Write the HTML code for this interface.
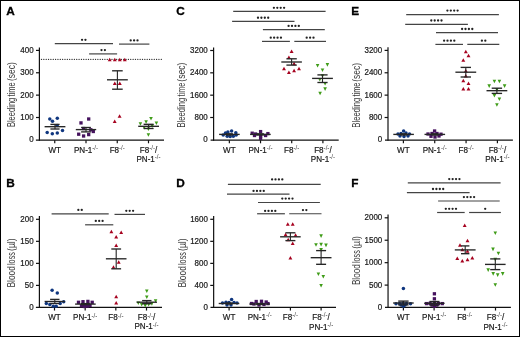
<!DOCTYPE html>
<html><head><meta charset="utf-8"><style>
html,body{margin:0;padding:0;background:#fff;}
body{width:520px;height:337px;overflow:hidden;}
svg{display:block;will-change:transform;font-family:"Liberation Sans",sans-serif;}
</style></head><body>
<svg width="520" height="337" viewBox="0 0 520 337">
<rect x="0" y="0" width="520" height="337" fill="#fff"/>
<rect x="0.5" y="0.5" width="519" height="336" fill="none" stroke="#000" stroke-width="1"/>
<circle cx="41.5" cy="59.35" r="0.68" fill="#1a1a1a"/>
<circle cx="43.85" cy="59.35" r="0.68" fill="#1a1a1a"/>
<circle cx="46.2" cy="59.35" r="0.68" fill="#1a1a1a"/>
<circle cx="48.55" cy="59.35" r="0.68" fill="#1a1a1a"/>
<circle cx="50.9" cy="59.35" r="0.68" fill="#1a1a1a"/>
<circle cx="53.25" cy="59.35" r="0.68" fill="#1a1a1a"/>
<circle cx="55.59" cy="59.35" r="0.68" fill="#1a1a1a"/>
<circle cx="57.94" cy="59.35" r="0.68" fill="#1a1a1a"/>
<circle cx="60.29" cy="59.35" r="0.68" fill="#1a1a1a"/>
<circle cx="62.64" cy="59.35" r="0.68" fill="#1a1a1a"/>
<circle cx="64.99" cy="59.35" r="0.68" fill="#1a1a1a"/>
<circle cx="67.34" cy="59.35" r="0.68" fill="#1a1a1a"/>
<circle cx="69.69" cy="59.35" r="0.68" fill="#1a1a1a"/>
<circle cx="72.04" cy="59.35" r="0.68" fill="#1a1a1a"/>
<circle cx="74.39" cy="59.35" r="0.68" fill="#1a1a1a"/>
<circle cx="76.74" cy="59.35" r="0.68" fill="#1a1a1a"/>
<circle cx="79.08" cy="59.35" r="0.68" fill="#1a1a1a"/>
<circle cx="81.43" cy="59.35" r="0.68" fill="#1a1a1a"/>
<circle cx="83.78" cy="59.35" r="0.68" fill="#1a1a1a"/>
<circle cx="86.13" cy="59.35" r="0.68" fill="#1a1a1a"/>
<circle cx="88.48" cy="59.35" r="0.68" fill="#1a1a1a"/>
<circle cx="90.83" cy="59.35" r="0.68" fill="#1a1a1a"/>
<circle cx="93.18" cy="59.35" r="0.68" fill="#1a1a1a"/>
<circle cx="95.53" cy="59.35" r="0.68" fill="#1a1a1a"/>
<circle cx="97.88" cy="59.35" r="0.68" fill="#1a1a1a"/>
<circle cx="100.23" cy="59.35" r="0.68" fill="#1a1a1a"/>
<circle cx="102.57" cy="59.35" r="0.68" fill="#1a1a1a"/>
<circle cx="104.92" cy="59.35" r="0.68" fill="#1a1a1a"/>
<circle cx="107.27" cy="59.35" r="0.68" fill="#1a1a1a"/>
<circle cx="109.62" cy="59.35" r="0.68" fill="#1a1a1a"/>
<circle cx="111.97" cy="59.35" r="0.68" fill="#1a1a1a"/>
<circle cx="114.32" cy="59.35" r="0.68" fill="#1a1a1a"/>
<circle cx="116.67" cy="59.35" r="0.68" fill="#1a1a1a"/>
<circle cx="119.02" cy="59.35" r="0.68" fill="#1a1a1a"/>
<circle cx="121.37" cy="59.35" r="0.68" fill="#1a1a1a"/>
<circle cx="123.72" cy="59.35" r="0.68" fill="#1a1a1a"/>
<circle cx="126.06" cy="59.35" r="0.68" fill="#1a1a1a"/>
<circle cx="128.41" cy="59.35" r="0.68" fill="#1a1a1a"/>
<circle cx="130.76" cy="59.35" r="0.68" fill="#1a1a1a"/>
<circle cx="133.11" cy="59.35" r="0.68" fill="#1a1a1a"/>
<circle cx="135.46" cy="59.35" r="0.68" fill="#1a1a1a"/>
<circle cx="137.81" cy="59.35" r="0.68" fill="#1a1a1a"/>
<circle cx="140.16" cy="59.35" r="0.68" fill="#1a1a1a"/>
<circle cx="142.51" cy="59.35" r="0.68" fill="#1a1a1a"/>
<circle cx="144.86" cy="59.35" r="0.68" fill="#1a1a1a"/>
<circle cx="147.21" cy="59.35" r="0.68" fill="#1a1a1a"/>
<circle cx="149.55" cy="59.35" r="0.68" fill="#1a1a1a"/>
<circle cx="151.9" cy="59.35" r="0.68" fill="#1a1a1a"/>
<circle cx="154.25" cy="59.35" r="0.68" fill="#1a1a1a"/>
<circle cx="156.6" cy="59.35" r="0.68" fill="#1a1a1a"/>
<circle cx="158.95" cy="59.35" r="0.68" fill="#1a1a1a"/>
<circle cx="161.3" cy="59.35" r="0.68" fill="#1a1a1a"/>
<text x="6.3" y="14.6" font-size="11.8" text-anchor="start" font-weight="bold" fill="#000" stroke="#000" stroke-width="0.3">A</text>
<line x1="39.4" y1="47.4" x2="39.4" y2="140.8" stroke="#111" stroke-width="1.2"/>
<line x1="36" y1="50.4" x2="39.4" y2="50.4" stroke="#111" stroke-width="1.2"/>
<text transform="translate(33.6,52.8) scale(0.915,1)" font-size="8.7" text-anchor="end" font-weight="normal" fill="#1a1a1a" stroke="#1a1a1a" stroke-width="0.22">400</text>
<line x1="36" y1="72.77" x2="39.4" y2="72.77" stroke="#111" stroke-width="1.2"/>
<text transform="translate(33.6,75.17) scale(0.915,1)" font-size="8.7" text-anchor="end" font-weight="normal" fill="#1a1a1a" stroke="#1a1a1a" stroke-width="0.22">300</text>
<line x1="36" y1="95.13" x2="39.4" y2="95.13" stroke="#111" stroke-width="1.2"/>
<text transform="translate(33.6,97.53) scale(0.915,1)" font-size="8.7" text-anchor="end" font-weight="normal" fill="#1a1a1a" stroke="#1a1a1a" stroke-width="0.22">200</text>
<line x1="36" y1="117.5" x2="39.4" y2="117.5" stroke="#111" stroke-width="1.2"/>
<text transform="translate(33.6,119.9) scale(0.915,1)" font-size="8.7" text-anchor="end" font-weight="normal" fill="#1a1a1a" stroke="#1a1a1a" stroke-width="0.22">100</text>
<text transform="translate(33.6,142.3) scale(0.915,1)" font-size="8.7" text-anchor="end" font-weight="normal" fill="#1a1a1a" stroke="#1a1a1a" stroke-width="0.22">0</text>
<line x1="35.9" y1="140.2" x2="164" y2="140.2" stroke="#111" stroke-width="1.2"/>
<line x1="54.75" y1="140.2" x2="54.75" y2="143.3" stroke="#111" stroke-width="1.2"/>
<line x1="86" y1="140.2" x2="86" y2="143.3" stroke="#111" stroke-width="1.2"/>
<line x1="117.25" y1="140.2" x2="117.25" y2="143.3" stroke="#111" stroke-width="1.2"/>
<line x1="148.5" y1="140.2" x2="148.5" y2="143.3" stroke="#111" stroke-width="1.2"/>
<text transform="translate(54.75,152.9) scale(0.93,1)" font-size="8.7" text-anchor="middle" fill="#1a1a1a" stroke="#1a1a1a" stroke-width="0.2">WT</text>
<text transform="translate(86,152.9) scale(0.93,1)" font-size="8.7" text-anchor="middle" fill="#1a1a1a" stroke="#1a1a1a" stroke-width="0.2">PN-1<tspan font-size="6.6" stroke-width="0" fill="#333" dy="-2.8">-/-</tspan></text>
<text transform="translate(117.25,152.9) scale(0.93,1)" font-size="8.7" text-anchor="middle" fill="#1a1a1a" stroke="#1a1a1a" stroke-width="0.2">F8<tspan font-size="6.6" stroke-width="0" fill="#333" dy="-2.8">-/-</tspan></text>
<text transform="translate(148.5,152.9) scale(0.93,1)" font-size="8.7" text-anchor="middle" fill="#1a1a1a" stroke="#1a1a1a" stroke-width="0.2">F8<tspan font-size="6.6" stroke-width="0" fill="#333" dy="-2.8">-/-</tspan><tspan dy="2.8">/</tspan></text>
<text transform="translate(148.5,162) scale(0.93,1)" font-size="8.7" text-anchor="middle" fill="#1a1a1a" stroke="#1a1a1a" stroke-width="0.2">PN-1<tspan font-size="6.6" stroke-width="0" fill="#333" dy="-2.8">-/-</tspan></text>
<text transform="translate(14.8,127.1) rotate(-90)" x="0" y="0" font-size="10.2" fill="#3a3a3a" textLength="29.4" lengthAdjust="spacingAndGlyphs">Bleeding</text>
<text transform="translate(14.8,96.5) rotate(-90)" x="0" y="0" font-size="10.2" fill="#3a3a3a" textLength="14.2" lengthAdjust="spacingAndGlyphs">time</text>
<text transform="translate(14.8,81.1) rotate(-90)" x="0" y="0" font-size="10.2" fill="#3a3a3a" textLength="18.8" lengthAdjust="spacingAndGlyphs">(sec)</text>
<line x1="54.8" y1="43.65" x2="113" y2="43.65" stroke="#444" stroke-width="1.2"/>
<circle cx="82.05" cy="39.8" r="1.15" fill="#222"/>
<circle cx="85.45" cy="39.8" r="1.15" fill="#222"/>
<line x1="89.1" y1="53.9" x2="117.1" y2="53.9" stroke="#444" stroke-width="1.2"/>
<circle cx="101.5" cy="50.1" r="1.15" fill="#222"/>
<circle cx="104.9" cy="50.1" r="1.15" fill="#222"/>
<line x1="119" y1="44.1" x2="149.4" y2="44.1" stroke="#444" stroke-width="1.2"/>
<circle cx="130.7" cy="40.4" r="1.15" fill="#222"/>
<circle cx="134.1" cy="40.4" r="1.15" fill="#222"/>
<circle cx="137.5" cy="40.4" r="1.15" fill="#222"/>
<circle cx="49.8" cy="119" r="1.75" fill="#0f367f"/>
<circle cx="52.5" cy="121.3" r="1.75" fill="#0f367f"/>
<circle cx="57.3" cy="118.3" r="1.75" fill="#0f367f"/>
<circle cx="57.1" cy="125.6" r="1.75" fill="#0f367f"/>
<circle cx="62.5" cy="130.4" r="1.75" fill="#0f367f"/>
<circle cx="47.2" cy="132.6" r="1.75" fill="#0f367f"/>
<circle cx="52.3" cy="133.7" r="1.75" fill="#0f367f"/>
<circle cx="57.3" cy="133.1" r="1.75" fill="#0f367f"/>
<rect x="87.05" y="117.35" width="3.3" height="3.3" fill="#45125e"/>
<rect x="79.35" y="121.25" width="3.3" height="3.3" fill="#45125e"/>
<rect x="81.95" y="126.85" width="3.3" height="3.3" fill="#45125e"/>
<rect x="89.15" y="128.15" width="3.3" height="3.3" fill="#45125e"/>
<rect x="91.65" y="129.85" width="3.3" height="3.3" fill="#45125e"/>
<rect x="77.05" y="132.55" width="3.3" height="3.3" fill="#45125e"/>
<rect x="81.95" y="134.35" width="3.3" height="3.3" fill="#45125e"/>
<rect x="87.05" y="132.95" width="3.3" height="3.3" fill="#45125e"/>
<path d="M107.75 61.15L109.7 57.65L111.65 61.15Z" fill="#a6021f"/>
<path d="M112.85 61.15L114.8 57.65L116.75 61.15Z" fill="#a6021f"/>
<path d="M117.85 61.15L119.8 57.65L121.75 61.15Z" fill="#a6021f"/>
<path d="M122.85 61.15L124.8 57.65L126.75 61.15Z" fill="#a6021f"/>
<path d="M112.85 85.05L114.8 81.55L116.75 85.05Z" fill="#a6021f"/>
<path d="M117.85 85.05L119.8 81.55L121.75 85.05Z" fill="#a6021f"/>
<path d="M117.65 117.85L119.6 114.35L121.55 117.85Z" fill="#a6021f"/>
<path d="M112.75 123.05L114.7 119.55L116.65 123.05Z" fill="#a6021f"/>
<path d="M149.2 117L152.8 117L151 120.6Z" fill="#3f9c18"/>
<path d="M144.3 120.2L147.9 120.2L146.1 123.8Z" fill="#3f9c18"/>
<path d="M138.6 122.2L142.2 122.2L140.4 125.8Z" fill="#3f9c18"/>
<path d="M154.6 121.5L158.2 121.5L156.4 125.1Z" fill="#3f9c18"/>
<path d="M150.4 124.3L154 124.3L152.2 127.9Z" fill="#3f9c18"/>
<path d="M142.4 125.9L146 125.9L144.2 129.5Z" fill="#3f9c18"/>
<path d="M146.6 127.4L150.2 127.4L148.4 131Z" fill="#3f9c18"/>
<path d="M146.6 133.2L150.2 133.2L148.4 136.8Z" fill="#3f9c18"/>
<line x1="55" y1="124.4" x2="55" y2="129" stroke="#262626" stroke-width="1.1"/>
<line x1="50.4" y1="124.4" x2="59.6" y2="124.4" stroke="#262626" stroke-width="1.35"/>
<line x1="50.4" y1="129" x2="59.6" y2="129" stroke="#262626" stroke-width="1.35"/>
<line x1="44.6" y1="126.7" x2="65.4" y2="126.7" stroke="#262626" stroke-width="1.35"/>
<line x1="86" y1="127.5" x2="86" y2="131.9" stroke="#262626" stroke-width="1.1"/>
<line x1="81.1" y1="127.5" x2="90.9" y2="127.5" stroke="#262626" stroke-width="1.35"/>
<line x1="81.1" y1="131.9" x2="90.9" y2="131.9" stroke="#262626" stroke-width="1.35"/>
<line x1="75.8" y1="129.6" x2="96.2" y2="129.6" stroke="#262626" stroke-width="1.35"/>
<line x1="117.4" y1="70.8" x2="117.4" y2="89.2" stroke="#262626" stroke-width="1.1"/>
<line x1="112.1" y1="70.8" x2="122.7" y2="70.8" stroke="#262626" stroke-width="1.35"/>
<line x1="112.1" y1="89.2" x2="122.7" y2="89.2" stroke="#262626" stroke-width="1.35"/>
<line x1="107" y1="79.8" x2="127.8" y2="79.8" stroke="#262626" stroke-width="1.35"/>
<line x1="148.6" y1="124.3" x2="148.6" y2="128.5" stroke="#262626" stroke-width="1.1"/>
<line x1="143.6" y1="124.3" x2="153.6" y2="124.3" stroke="#262626" stroke-width="1.35"/>
<line x1="143.6" y1="128.5" x2="153.6" y2="128.5" stroke="#262626" stroke-width="1.35"/>
<line x1="138.2" y1="126.3" x2="159" y2="126.3" stroke="#262626" stroke-width="1.35"/>
<text x="6.3" y="186.6" font-size="11.8" text-anchor="start" font-weight="bold" fill="#000" stroke="#000" stroke-width="0.3">B</text>
<line x1="39.4" y1="216.1" x2="39.4" y2="308.05" stroke="#111" stroke-width="1.2"/>
<line x1="36" y1="219.3" x2="39.4" y2="219.3" stroke="#111" stroke-width="1.2"/>
<text transform="translate(33.6,221.7) scale(0.915,1)" font-size="8.7" text-anchor="end" font-weight="normal" fill="#1a1a1a" stroke="#1a1a1a" stroke-width="0.22">200</text>
<line x1="36" y1="241.33" x2="39.4" y2="241.33" stroke="#111" stroke-width="1.2"/>
<text transform="translate(33.6,243.73) scale(0.915,1)" font-size="8.7" text-anchor="end" font-weight="normal" fill="#1a1a1a" stroke="#1a1a1a" stroke-width="0.22">150</text>
<line x1="36" y1="263.37" x2="39.4" y2="263.37" stroke="#111" stroke-width="1.2"/>
<text transform="translate(33.6,265.77) scale(0.915,1)" font-size="8.7" text-anchor="end" font-weight="normal" fill="#1a1a1a" stroke="#1a1a1a" stroke-width="0.22">100</text>
<line x1="36" y1="285.4" x2="39.4" y2="285.4" stroke="#111" stroke-width="1.2"/>
<text transform="translate(33.6,287.8) scale(0.915,1)" font-size="8.7" text-anchor="end" font-weight="normal" fill="#1a1a1a" stroke="#1a1a1a" stroke-width="0.22">50</text>
<text transform="translate(33.6,309.8) scale(0.915,1)" font-size="8.7" text-anchor="end" font-weight="normal" fill="#1a1a1a" stroke="#1a1a1a" stroke-width="0.22">0</text>
<line x1="35.9" y1="307.45" x2="162" y2="307.45" stroke="#111" stroke-width="1.2"/>
<line x1="54.5" y1="307.45" x2="54.5" y2="310.55" stroke="#111" stroke-width="1.2"/>
<line x1="85.17" y1="307.45" x2="85.17" y2="310.55" stroke="#111" stroke-width="1.2"/>
<line x1="115.83" y1="307.45" x2="115.83" y2="310.55" stroke="#111" stroke-width="1.2"/>
<line x1="146.5" y1="307.45" x2="146.5" y2="310.55" stroke="#111" stroke-width="1.2"/>
<text transform="translate(54.5,320.3) scale(0.93,1)" font-size="8.7" text-anchor="middle" fill="#1a1a1a" stroke="#1a1a1a" stroke-width="0.2">WT</text>
<text transform="translate(85.17,320.3) scale(0.93,1)" font-size="8.7" text-anchor="middle" fill="#1a1a1a" stroke="#1a1a1a" stroke-width="0.2">PN-1<tspan font-size="6.6" stroke-width="0" fill="#333" dy="-2.8">-/-</tspan></text>
<text transform="translate(115.83,320.3) scale(0.93,1)" font-size="8.7" text-anchor="middle" fill="#1a1a1a" stroke="#1a1a1a" stroke-width="0.2">F8<tspan font-size="6.6" stroke-width="0" fill="#333" dy="-2.8">-/-</tspan></text>
<text transform="translate(146.5,320.3) scale(0.93,1)" font-size="8.7" text-anchor="middle" fill="#1a1a1a" stroke="#1a1a1a" stroke-width="0.2">F8<tspan font-size="6.6" stroke-width="0" fill="#333" dy="-2.8">-/-</tspan><tspan dy="2.8">/</tspan></text>
<text transform="translate(146.5,329.4) scale(0.93,1)" font-size="8.7" text-anchor="middle" fill="#1a1a1a" stroke="#1a1a1a" stroke-width="0.2">PN-1<tspan font-size="6.6" stroke-width="0" fill="#333" dy="-2.8">-/-</tspan></text>
<text transform="translate(15.1,287.5) rotate(-90)" x="0" y="0" font-size="10.2" fill="#3a3a3a" textLength="21.4" lengthAdjust="spacingAndGlyphs">Blood</text>
<text transform="translate(15.1,265) rotate(-90)" x="0" y="0" font-size="10.2" fill="#3a3a3a" textLength="13" lengthAdjust="spacingAndGlyphs">loss</text>
<text transform="translate(15.1,250.9) rotate(-90)" x="0" y="0" font-size="10.2" fill="#3a3a3a" textLength="12.5" lengthAdjust="spacingAndGlyphs">(µl)</text>
<line x1="51.6" y1="213.9" x2="108.7" y2="213.9" stroke="#444" stroke-width="1.2"/>
<circle cx="78.35" cy="209.9" r="1.15" fill="#222"/>
<circle cx="81.75" cy="209.9" r="1.15" fill="#222"/>
<line x1="85.1" y1="224.8" x2="113.3" y2="224.8" stroke="#444" stroke-width="1.2"/>
<circle cx="95.8" cy="220.9" r="1.15" fill="#222"/>
<circle cx="99.2" cy="220.9" r="1.15" fill="#222"/>
<circle cx="102.6" cy="220.9" r="1.15" fill="#222"/>
<line x1="114.5" y1="214.4" x2="145" y2="214.4" stroke="#444" stroke-width="1.2"/>
<circle cx="126.3" cy="210.8" r="1.15" fill="#222"/>
<circle cx="129.7" cy="210.8" r="1.15" fill="#222"/>
<circle cx="133.1" cy="210.8" r="1.15" fill="#222"/>
<circle cx="52.1" cy="290.2" r="1.75" fill="#0f367f"/>
<circle cx="57.3" cy="293.1" r="1.75" fill="#0f367f"/>
<circle cx="63.7" cy="301.7" r="1.75" fill="#0f367f"/>
<circle cx="60.2" cy="303.5" r="1.75" fill="#0f367f"/>
<circle cx="46.3" cy="303.5" r="1.75" fill="#0f367f"/>
<circle cx="49.8" cy="304.6" r="1.75" fill="#0f367f"/>
<circle cx="53.3" cy="306.3" r="1.75" fill="#0f367f"/>
<circle cx="56.2" cy="306.3" r="1.75" fill="#0f367f"/>
<rect x="76.85" y="300.65" width="3.3" height="3.3" fill="#45125e"/>
<rect x="81.35" y="300.05" width="3.3" height="3.3" fill="#45125e"/>
<rect x="86.25" y="299.75" width="3.3" height="3.3" fill="#45125e"/>
<rect x="90.55" y="300.65" width="3.3" height="3.3" fill="#45125e"/>
<rect x="79.85" y="304.15" width="3.3" height="3.3" fill="#45125e"/>
<rect x="82.85" y="304.85" width="3.3" height="3.3" fill="#45125e"/>
<rect x="85.85" y="304.45" width="3.3" height="3.3" fill="#45125e"/>
<rect x="88.35" y="303.75" width="3.3" height="3.3" fill="#45125e"/>
<path d="M109.45 233.35L111.4 229.85L113.35 233.35Z" fill="#a6021f"/>
<path d="M119.25 233.95L121.2 230.45L123.15 233.95Z" fill="#a6021f"/>
<path d="M114.25 238.55L116.2 235.05L118.15 238.55Z" fill="#a6021f"/>
<path d="M114.25 247.05L116.2 243.55L118.15 247.05Z" fill="#a6021f"/>
<path d="M116.75 263.65L118.7 260.15L120.65 263.65Z" fill="#a6021f"/>
<path d="M111.55 268.65L113.5 265.15L115.45 268.65Z" fill="#a6021f"/>
<path d="M114.25 298.25L116.2 294.75L118.15 298.25Z" fill="#a6021f"/>
<path d="M114.25 304.55L116.2 301.05L118.15 304.55Z" fill="#a6021f"/>
<path d="M145 289.5L148.6 289.5L146.8 293.1Z" fill="#3f9c18"/>
<path d="M145 295.4L148.6 295.4L146.8 299Z" fill="#3f9c18"/>
<path d="M153.8 299.2L157.4 299.2L155.6 302.8Z" fill="#3f9c18"/>
<path d="M136.5 301.4L140.1 301.4L138.3 305Z" fill="#3f9c18"/>
<path d="M139.9 302.9L143.5 302.9L141.7 306.5Z" fill="#3f9c18"/>
<path d="M143.4 304L147 304L145.2 307.6Z" fill="#3f9c18"/>
<path d="M146.9 302.9L150.5 302.9L148.7 306.5Z" fill="#3f9c18"/>
<path d="M150.1 302.1L153.7 302.1L151.9 305.7Z" fill="#3f9c18"/>
<line x1="54.8" y1="299.4" x2="54.8" y2="303.5" stroke="#262626" stroke-width="1.1"/>
<line x1="50.1" y1="299.4" x2="59.5" y2="299.4" stroke="#262626" stroke-width="1.35"/>
<line x1="50.1" y1="303.5" x2="59.5" y2="303.5" stroke="#262626" stroke-width="1.35"/>
<line x1="44.6" y1="301.5" x2="65" y2="301.5" stroke="#262626" stroke-width="1.35"/>
<line x1="85.4" y1="303.6" x2="85.4" y2="304.6" stroke="#262626" stroke-width="1.1"/>
<line x1="80.9" y1="303.6" x2="89.9" y2="303.6" stroke="#262626" stroke-width="1.35"/>
<line x1="80.9" y1="304.6" x2="89.9" y2="304.6" stroke="#262626" stroke-width="1.35"/>
<line x1="75.1" y1="304.1" x2="95.7" y2="304.1" stroke="#262626" stroke-width="1.35"/>
<line x1="116.2" y1="249" x2="116.2" y2="268.8" stroke="#262626" stroke-width="1.1"/>
<line x1="111.3" y1="249" x2="121.1" y2="249" stroke="#262626" stroke-width="1.35"/>
<line x1="111.3" y1="268.8" x2="121.1" y2="268.8" stroke="#262626" stroke-width="1.35"/>
<line x1="105.9" y1="258.8" x2="126.5" y2="258.8" stroke="#262626" stroke-width="1.35"/>
<line x1="146.8" y1="300.6" x2="146.8" y2="303.7" stroke="#262626" stroke-width="1.1"/>
<line x1="142.1" y1="300.6" x2="151.5" y2="300.6" stroke="#262626" stroke-width="1.35"/>
<line x1="142.1" y1="303.7" x2="151.5" y2="303.7" stroke="#262626" stroke-width="1.35"/>
<line x1="136.6" y1="302.2" x2="157" y2="302.2" stroke="#262626" stroke-width="1.35"/>
<text x="176.2" y="15.2" font-size="11.8" text-anchor="start" font-weight="bold" fill="#000" stroke="#000" stroke-width="0.3">C</text>
<line x1="213.6" y1="47.5" x2="213.6" y2="140.8" stroke="#111" stroke-width="1.2"/>
<line x1="210.2" y1="50.5" x2="213.6" y2="50.5" stroke="#111" stroke-width="1.2"/>
<text transform="translate(207.8,52.9) scale(0.915,1)" font-size="8.7" text-anchor="end" font-weight="normal" fill="#1a1a1a" stroke="#1a1a1a" stroke-width="0.22">3200</text>
<line x1="210.2" y1="72.83" x2="213.6" y2="72.83" stroke="#111" stroke-width="1.2"/>
<text transform="translate(207.8,75.23) scale(0.915,1)" font-size="8.7" text-anchor="end" font-weight="normal" fill="#1a1a1a" stroke="#1a1a1a" stroke-width="0.22">2400</text>
<line x1="210.2" y1="95.17" x2="213.6" y2="95.17" stroke="#111" stroke-width="1.2"/>
<text transform="translate(207.8,97.57) scale(0.915,1)" font-size="8.7" text-anchor="end" font-weight="normal" fill="#1a1a1a" stroke="#1a1a1a" stroke-width="0.22">1600</text>
<line x1="210.2" y1="117.5" x2="213.6" y2="117.5" stroke="#111" stroke-width="1.2"/>
<text transform="translate(207.8,119.9) scale(0.915,1)" font-size="8.7" text-anchor="end" font-weight="normal" fill="#1a1a1a" stroke="#1a1a1a" stroke-width="0.22">800</text>
<text transform="translate(207.8,142.3) scale(0.915,1)" font-size="8.7" text-anchor="end" font-weight="normal" fill="#1a1a1a" stroke="#1a1a1a" stroke-width="0.22">0</text>
<line x1="210.6" y1="140.2" x2="338.7" y2="140.2" stroke="#111" stroke-width="1.2"/>
<line x1="229.35" y1="140.2" x2="229.35" y2="143.3" stroke="#111" stroke-width="1.2"/>
<line x1="260.53" y1="140.2" x2="260.53" y2="143.3" stroke="#111" stroke-width="1.2"/>
<line x1="291.72" y1="140.2" x2="291.72" y2="143.3" stroke="#111" stroke-width="1.2"/>
<line x1="322.9" y1="140.2" x2="322.9" y2="143.3" stroke="#111" stroke-width="1.2"/>
<text transform="translate(229.35,152.8) scale(0.93,1)" font-size="8.7" text-anchor="middle" fill="#1a1a1a" stroke="#1a1a1a" stroke-width="0.2">WT</text>
<text transform="translate(260.53,152.8) scale(0.93,1)" font-size="8.7" text-anchor="middle" fill="#1a1a1a" stroke="#1a1a1a" stroke-width="0.2">PN-1<tspan font-size="6.6" stroke-width="0" fill="#333" dy="-2.8">-/-</tspan></text>
<text transform="translate(291.72,152.8) scale(0.93,1)" font-size="8.7" text-anchor="middle" fill="#1a1a1a" stroke="#1a1a1a" stroke-width="0.2">F8<tspan font-size="6.6" stroke-width="0" fill="#333" dy="-2.8">-/-</tspan></text>
<text transform="translate(322.9,152.8) scale(0.93,1)" font-size="8.7" text-anchor="middle" fill="#1a1a1a" stroke="#1a1a1a" stroke-width="0.2">F8<tspan font-size="6.6" stroke-width="0" fill="#333" dy="-2.8">-/-</tspan><tspan dy="2.8">/</tspan></text>
<text transform="translate(322.9,162) scale(0.93,1)" font-size="8.7" text-anchor="middle" fill="#1a1a1a" stroke="#1a1a1a" stroke-width="0.2">PN-1<tspan font-size="6.6" stroke-width="0" fill="#333" dy="-2.8">-/-</tspan></text>
<text transform="translate(185.2,127.5) rotate(-90)" x="0" y="0" font-size="10.2" fill="#3a3a3a" textLength="29.8" lengthAdjust="spacingAndGlyphs">Bleeding</text>
<text transform="translate(185.2,96.5) rotate(-90)" x="0" y="0" font-size="10.2" fill="#3a3a3a" textLength="13.7" lengthAdjust="spacingAndGlyphs">time</text>
<text transform="translate(185.2,81.7) rotate(-90)" x="0" y="0" font-size="10.2" fill="#3a3a3a" textLength="19" lengthAdjust="spacingAndGlyphs">(sec)</text>
<line x1="233.2" y1="11.45" x2="325.6" y2="11.45" stroke="#444" stroke-width="1.2"/>
<circle cx="273.9" cy="7.85" r="1.15" fill="#222"/>
<circle cx="277.3" cy="7.85" r="1.15" fill="#222"/>
<circle cx="280.7" cy="7.85" r="1.15" fill="#222"/>
<circle cx="284.1" cy="7.85" r="1.15" fill="#222"/>
<line x1="232.1" y1="21.4" x2="294.5" y2="21.4" stroke="#444" stroke-width="1.2"/>
<circle cx="258" cy="17.75" r="1.15" fill="#222"/>
<circle cx="261.4" cy="17.75" r="1.15" fill="#222"/>
<circle cx="264.8" cy="17.75" r="1.15" fill="#222"/>
<circle cx="268.2" cy="17.75" r="1.15" fill="#222"/>
<line x1="262.9" y1="29.7" x2="324.8" y2="29.7" stroke="#444" stroke-width="1.2"/>
<circle cx="288.6" cy="25.95" r="1.15" fill="#222"/>
<circle cx="292" cy="25.95" r="1.15" fill="#222"/>
<circle cx="295.4" cy="25.95" r="1.15" fill="#222"/>
<circle cx="298.8" cy="25.95" r="1.15" fill="#222"/>
<line x1="262" y1="41.4" x2="289.9" y2="41.4" stroke="#444" stroke-width="1.2"/>
<circle cx="270.75" cy="37.7" r="1.15" fill="#222"/>
<circle cx="274.15" cy="37.7" r="1.15" fill="#222"/>
<circle cx="277.55" cy="37.7" r="1.15" fill="#222"/>
<circle cx="280.95" cy="37.7" r="1.15" fill="#222"/>
<line x1="294.3" y1="41.4" x2="326" y2="41.4" stroke="#444" stroke-width="1.2"/>
<circle cx="306.7" cy="37.7" r="1.15" fill="#222"/>
<circle cx="310.1" cy="37.7" r="1.15" fill="#222"/>
<circle cx="313.5" cy="37.7" r="1.15" fill="#222"/>
<circle cx="225.5" cy="132.9" r="1.75" fill="#0f367f"/>
<circle cx="227.9" cy="132.1" r="1.75" fill="#0f367f"/>
<circle cx="231.6" cy="131.1" r="1.75" fill="#0f367f"/>
<circle cx="235.8" cy="132.7" r="1.75" fill="#0f367f"/>
<circle cx="223.2" cy="134.9" r="1.75" fill="#0f367f"/>
<circle cx="227.2" cy="136.2" r="1.75" fill="#0f367f"/>
<circle cx="230.2" cy="136.5" r="1.75" fill="#0f367f"/>
<circle cx="233.3" cy="136.2" r="1.75" fill="#0f367f"/>
<circle cx="236.2" cy="134.9" r="1.75" fill="#0f367f"/>
<rect x="250.55" y="131.55" width="3.3" height="3.3" fill="#45125e"/>
<rect x="253.95" y="132.35" width="3.3" height="3.3" fill="#45125e"/>
<rect x="258.95" y="129.95" width="3.3" height="3.3" fill="#45125e"/>
<rect x="266.25" y="131.95" width="3.3" height="3.3" fill="#45125e"/>
<rect x="252.85" y="133.85" width="3.3" height="3.3" fill="#45125e"/>
<rect x="258.95" y="134.35" width="3.3" height="3.3" fill="#45125e"/>
<rect x="263.95" y="133.85" width="3.3" height="3.3" fill="#45125e"/>
<rect x="258.95" y="136.65" width="3.3" height="3.3" fill="#45125e"/>
<path d="M289.65 53.05L291.6 49.55L293.55 53.05Z" fill="#a6021f"/>
<path d="M286.95 58.95L288.9 55.45L290.85 58.95Z" fill="#a6021f"/>
<path d="M292.15 65.15L294.1 61.65L296.05 65.15Z" fill="#a6021f"/>
<path d="M282.05 70.25L284 66.75L285.95 70.25Z" fill="#a6021f"/>
<path d="M297.05 70.25L299 66.75L300.95 70.25Z" fill="#a6021f"/>
<path d="M286.95 73.95L288.9 70.45L290.85 73.95Z" fill="#a6021f"/>
<path d="M292.15 72.35L294.1 68.85L296.05 72.35Z" fill="#a6021f"/>
<path d="M315.8 63.9L319.4 63.9L317.6 67.5Z" fill="#3f9c18"/>
<path d="M325.6 63.1L329.2 63.1L327.4 66.7Z" fill="#3f9c18"/>
<path d="M320.7 68.5L324.3 68.5L322.5 72.1Z" fill="#3f9c18"/>
<path d="M320.7 74.2L324.3 74.2L322.5 77.8Z" fill="#3f9c18"/>
<path d="M318 78L321.6 78L319.8 81.6Z" fill="#3f9c18"/>
<path d="M323.3 82L326.9 82L325.1 85.6Z" fill="#3f9c18"/>
<path d="M323.3 87.3L326.9 87.3L325.1 90.9Z" fill="#3f9c18"/>
<path d="M318.3 91.7L321.9 91.7L320.1 95.3Z" fill="#3f9c18"/>
<line x1="229.4" y1="133.8" x2="229.4" y2="135" stroke="#262626" stroke-width="1.1"/>
<line x1="225.9" y1="133.8" x2="232.9" y2="133.8" stroke="#262626" stroke-width="1.35"/>
<line x1="225.9" y1="135" x2="232.9" y2="135" stroke="#262626" stroke-width="1.35"/>
<line x1="219.1" y1="134.4" x2="239.7" y2="134.4" stroke="#262626" stroke-width="1.35"/>
<line x1="260.4" y1="133.8" x2="260.4" y2="135" stroke="#262626" stroke-width="1.1"/>
<line x1="256.9" y1="133.8" x2="263.9" y2="133.8" stroke="#262626" stroke-width="1.35"/>
<line x1="256.9" y1="135" x2="263.9" y2="135" stroke="#262626" stroke-width="1.35"/>
<line x1="250.1" y1="134.4" x2="270.7" y2="134.4" stroke="#262626" stroke-width="1.35"/>
<line x1="291.6" y1="58.8" x2="291.6" y2="65.1" stroke="#262626" stroke-width="1.1"/>
<line x1="286.4" y1="58.8" x2="296.8" y2="58.8" stroke="#262626" stroke-width="1.35"/>
<line x1="286.4" y1="65.1" x2="296.8" y2="65.1" stroke="#262626" stroke-width="1.35"/>
<line x1="281.3" y1="62" x2="301.9" y2="62" stroke="#262626" stroke-width="1.35"/>
<line x1="322.5" y1="74.9" x2="322.5" y2="82.5" stroke="#262626" stroke-width="1.1"/>
<line x1="317.4" y1="74.9" x2="327.6" y2="74.9" stroke="#262626" stroke-width="1.35"/>
<line x1="317.4" y1="82.5" x2="327.6" y2="82.5" stroke="#262626" stroke-width="1.35"/>
<line x1="312.1" y1="78.4" x2="332.9" y2="78.4" stroke="#262626" stroke-width="1.35"/>
<text x="176.2" y="186.7" font-size="11.8" text-anchor="start" font-weight="bold" fill="#000" stroke="#000" stroke-width="0.3">D</text>
<line x1="213.65" y1="216.1" x2="213.65" y2="308.05" stroke="#111" stroke-width="1.2"/>
<line x1="210.25" y1="219.3" x2="213.65" y2="219.3" stroke="#111" stroke-width="1.2"/>
<text transform="translate(207.85,221.7) scale(0.915,1)" font-size="8.7" text-anchor="end" font-weight="normal" fill="#1a1a1a" stroke="#1a1a1a" stroke-width="0.22">1600</text>
<line x1="210.25" y1="241.33" x2="213.65" y2="241.33" stroke="#111" stroke-width="1.2"/>
<text transform="translate(207.85,243.73) scale(0.915,1)" font-size="8.7" text-anchor="end" font-weight="normal" fill="#1a1a1a" stroke="#1a1a1a" stroke-width="0.22">1200</text>
<line x1="210.25" y1="263.37" x2="213.65" y2="263.37" stroke="#111" stroke-width="1.2"/>
<text transform="translate(207.85,265.77) scale(0.915,1)" font-size="8.7" text-anchor="end" font-weight="normal" fill="#1a1a1a" stroke="#1a1a1a" stroke-width="0.22">800</text>
<line x1="210.25" y1="285.4" x2="213.65" y2="285.4" stroke="#111" stroke-width="1.2"/>
<text transform="translate(207.85,287.8) scale(0.915,1)" font-size="8.7" text-anchor="end" font-weight="normal" fill="#1a1a1a" stroke="#1a1a1a" stroke-width="0.22">400</text>
<text transform="translate(207.85,309.8) scale(0.915,1)" font-size="8.7" text-anchor="end" font-weight="normal" fill="#1a1a1a" stroke="#1a1a1a" stroke-width="0.22">0</text>
<line x1="210.5" y1="307.45" x2="336" y2="307.45" stroke="#111" stroke-width="1.2"/>
<line x1="229.1" y1="307.45" x2="229.1" y2="310.55" stroke="#111" stroke-width="1.2"/>
<line x1="259.77" y1="307.45" x2="259.77" y2="310.55" stroke="#111" stroke-width="1.2"/>
<line x1="290.43" y1="307.45" x2="290.43" y2="310.55" stroke="#111" stroke-width="1.2"/>
<line x1="321.1" y1="307.45" x2="321.1" y2="310.55" stroke="#111" stroke-width="1.2"/>
<text transform="translate(229.1,320.1) scale(0.93,1)" font-size="8.7" text-anchor="middle" fill="#1a1a1a" stroke="#1a1a1a" stroke-width="0.2">WT</text>
<text transform="translate(259.77,320.1) scale(0.93,1)" font-size="8.7" text-anchor="middle" fill="#1a1a1a" stroke="#1a1a1a" stroke-width="0.2">PN-1<tspan font-size="6.6" stroke-width="0" fill="#333" dy="-2.8">-/-</tspan></text>
<text transform="translate(290.43,320.1) scale(0.93,1)" font-size="8.7" text-anchor="middle" fill="#1a1a1a" stroke="#1a1a1a" stroke-width="0.2">F8<tspan font-size="6.6" stroke-width="0" fill="#333" dy="-2.8">-/-</tspan></text>
<text transform="translate(321.1,320.1) scale(0.93,1)" font-size="8.7" text-anchor="middle" fill="#1a1a1a" stroke="#1a1a1a" stroke-width="0.2">F8<tspan font-size="6.6" stroke-width="0" fill="#333" dy="-2.8">-/-</tspan><tspan dy="2.8">/</tspan></text>
<text transform="translate(321.1,329.7) scale(0.93,1)" font-size="8.7" text-anchor="middle" fill="#1a1a1a" stroke="#1a1a1a" stroke-width="0.2">PN-1<tspan font-size="6.6" stroke-width="0" fill="#333" dy="-2.8">-/-</tspan></text>
<text transform="translate(185.6,287.6) rotate(-90)" x="0" y="0" font-size="10.2" fill="#3a3a3a" textLength="21.5" lengthAdjust="spacingAndGlyphs">Blood</text>
<text transform="translate(185.6,265) rotate(-90)" x="0" y="0" font-size="10.2" fill="#3a3a3a" textLength="13" lengthAdjust="spacingAndGlyphs">loss</text>
<text transform="translate(185.6,250.9) rotate(-90)" x="0" y="0" font-size="10.2" fill="#3a3a3a" textLength="12.5" lengthAdjust="spacingAndGlyphs">(µl)</text>
<line x1="227.9" y1="184.4" x2="320.7" y2="184.4" stroke="#444" stroke-width="1.2"/>
<circle cx="272.1" cy="179.4" r="1.15" fill="#222"/>
<circle cx="275.5" cy="179.4" r="1.15" fill="#222"/>
<circle cx="278.9" cy="179.4" r="1.15" fill="#222"/>
<circle cx="282.3" cy="179.4" r="1.15" fill="#222"/>
<line x1="227" y1="194.1" x2="289.5" y2="194.1" stroke="#444" stroke-width="1.2"/>
<circle cx="253.55" cy="190.9" r="1.15" fill="#222"/>
<circle cx="256.95" cy="190.9" r="1.15" fill="#222"/>
<circle cx="260.35" cy="190.9" r="1.15" fill="#222"/>
<circle cx="263.75" cy="190.9" r="1.15" fill="#222"/>
<line x1="258" y1="202.5" x2="319.9" y2="202.5" stroke="#444" stroke-width="1.2"/>
<circle cx="282.3" cy="198.6" r="1.15" fill="#222"/>
<circle cx="285.7" cy="198.6" r="1.15" fill="#222"/>
<circle cx="289.1" cy="198.6" r="1.15" fill="#222"/>
<circle cx="292.5" cy="198.6" r="1.15" fill="#222"/>
<line x1="257.1" y1="213.75" x2="284.9" y2="213.75" stroke="#444" stroke-width="1.2"/>
<circle cx="265.1" cy="210.9" r="1.15" fill="#222"/>
<circle cx="268.5" cy="210.9" r="1.15" fill="#222"/>
<circle cx="271.9" cy="210.9" r="1.15" fill="#222"/>
<circle cx="275.3" cy="210.9" r="1.15" fill="#222"/>
<line x1="289.2" y1="213.75" x2="321.5" y2="213.75" stroke="#444" stroke-width="1.2"/>
<circle cx="302.95" cy="210.1" r="1.15" fill="#222"/>
<circle cx="306.35" cy="210.1" r="1.15" fill="#222"/>
<circle cx="231.6" cy="299.6" r="1.75" fill="#0f367f"/>
<circle cx="222.5" cy="303" r="1.75" fill="#0f367f"/>
<circle cx="226" cy="302.2" r="1.75" fill="#0f367f"/>
<circle cx="229" cy="302.6" r="1.75" fill="#0f367f"/>
<circle cx="234" cy="302.4" r="1.75" fill="#0f367f"/>
<circle cx="237" cy="303" r="1.75" fill="#0f367f"/>
<circle cx="227" cy="305" r="1.75" fill="#0f367f"/>
<circle cx="231" cy="305" r="1.75" fill="#0f367f"/>
<rect x="254.55" y="299.85" width="3.3" height="3.3" fill="#45125e"/>
<rect x="259.85" y="299.65" width="3.3" height="3.3" fill="#45125e"/>
<rect x="264.55" y="300.35" width="3.3" height="3.3" fill="#45125e"/>
<rect x="249.85" y="301.85" width="3.3" height="3.3" fill="#45125e"/>
<rect x="252.35" y="302.35" width="3.3" height="3.3" fill="#45125e"/>
<rect x="257.35" y="303.35" width="3.3" height="3.3" fill="#45125e"/>
<rect x="262.35" y="302.85" width="3.3" height="3.3" fill="#45125e"/>
<rect x="266.35" y="301.95" width="3.3" height="3.3" fill="#45125e"/>
<path d="M285.85 225.65L287.8 222.15L289.75 225.65Z" fill="#a6021f"/>
<path d="M290.75 225.65L292.7 222.15L294.65 225.65Z" fill="#a6021f"/>
<path d="M283.65 236.35L285.6 232.85L287.55 236.35Z" fill="#a6021f"/>
<path d="M293.65 236.75L295.6 233.25L297.55 236.75Z" fill="#a6021f"/>
<path d="M286.25 241.15L288.2 237.65L290.15 241.15Z" fill="#a6021f"/>
<path d="M290.75 244.95L292.7 241.45L294.65 244.95Z" fill="#a6021f"/>
<path d="M288.45 259.45L290.4 255.95L292.35 259.45Z" fill="#a6021f"/>
<path d="M319.3 234.3L322.9 234.3L321.1 237.9Z" fill="#3f9c18"/>
<path d="M314.2 243.2L317.8 243.2L316 246.8Z" fill="#3f9c18"/>
<path d="M319.3 242.8L322.9 242.8L321.1 246.4Z" fill="#3f9c18"/>
<path d="M324.2 243.6L327.8 243.6L326 247.2Z" fill="#3f9c18"/>
<path d="M319.3 248.1L322.9 248.1L321.1 251.7Z" fill="#3f9c18"/>
<path d="M316.6 272.5L320.2 272.5L318.4 276.1Z" fill="#3f9c18"/>
<path d="M321.5 275L325.1 275L323.3 278.6Z" fill="#3f9c18"/>
<path d="M319.3 283.9L322.9 283.9L321.1 287.5Z" fill="#3f9c18"/>
<line x1="229" y1="303" x2="229" y2="304" stroke="#262626" stroke-width="1.1"/>
<line x1="225.5" y1="303" x2="232.5" y2="303" stroke="#262626" stroke-width="1.35"/>
<line x1="225.5" y1="304" x2="232.5" y2="304" stroke="#262626" stroke-width="1.35"/>
<line x1="218.7" y1="303.5" x2="239.3" y2="303.5" stroke="#262626" stroke-width="1.35"/>
<line x1="259.7" y1="303.5" x2="259.7" y2="304.5" stroke="#262626" stroke-width="1.1"/>
<line x1="256.2" y1="303.5" x2="263.2" y2="303.5" stroke="#262626" stroke-width="1.35"/>
<line x1="256.2" y1="304.5" x2="263.2" y2="304.5" stroke="#262626" stroke-width="1.35"/>
<line x1="249.4" y1="304" x2="270" y2="304" stroke="#262626" stroke-width="1.35"/>
<line x1="290.4" y1="232.8" x2="290.4" y2="240.6" stroke="#262626" stroke-width="1.1"/>
<line x1="285.4" y1="232.8" x2="295.4" y2="232.8" stroke="#262626" stroke-width="1.35"/>
<line x1="285.4" y1="240.6" x2="295.4" y2="240.6" stroke="#262626" stroke-width="1.35"/>
<line x1="280.1" y1="236.8" x2="300.7" y2="236.8" stroke="#262626" stroke-width="1.35"/>
<line x1="321.1" y1="250.6" x2="321.1" y2="264.3" stroke="#262626" stroke-width="1.1"/>
<line x1="316.1" y1="250.6" x2="326.1" y2="250.6" stroke="#262626" stroke-width="1.35"/>
<line x1="316.1" y1="264.3" x2="326.1" y2="264.3" stroke="#262626" stroke-width="1.35"/>
<line x1="310.7" y1="257.7" x2="331.5" y2="257.7" stroke="#262626" stroke-width="1.35"/>
<text x="351.3" y="15.2" font-size="11.8" text-anchor="start" font-weight="bold" fill="#000" stroke="#000" stroke-width="0.3">E</text>
<line x1="388" y1="47.2" x2="388" y2="140.8" stroke="#111" stroke-width="1.2"/>
<line x1="384.6" y1="50.4" x2="388" y2="50.4" stroke="#111" stroke-width="1.2"/>
<text transform="translate(382.2,52.8) scale(0.915,1)" font-size="8.7" text-anchor="end" font-weight="normal" fill="#1a1a1a" stroke="#1a1a1a" stroke-width="0.22">3200</text>
<line x1="384.6" y1="72.77" x2="388" y2="72.77" stroke="#111" stroke-width="1.2"/>
<text transform="translate(382.2,75.17) scale(0.915,1)" font-size="8.7" text-anchor="end" font-weight="normal" fill="#1a1a1a" stroke="#1a1a1a" stroke-width="0.22">2400</text>
<line x1="384.6" y1="95.13" x2="388" y2="95.13" stroke="#111" stroke-width="1.2"/>
<text transform="translate(382.2,97.53) scale(0.915,1)" font-size="8.7" text-anchor="end" font-weight="normal" fill="#1a1a1a" stroke="#1a1a1a" stroke-width="0.22">1600</text>
<line x1="384.6" y1="117.5" x2="388" y2="117.5" stroke="#111" stroke-width="1.2"/>
<text transform="translate(382.2,119.9) scale(0.915,1)" font-size="8.7" text-anchor="end" font-weight="normal" fill="#1a1a1a" stroke="#1a1a1a" stroke-width="0.22">800</text>
<text transform="translate(382.2,142.3) scale(0.915,1)" font-size="8.7" text-anchor="end" font-weight="normal" fill="#1a1a1a" stroke="#1a1a1a" stroke-width="0.22">0</text>
<line x1="385" y1="140.2" x2="512.9" y2="140.2" stroke="#111" stroke-width="1.2"/>
<line x1="403.4" y1="140.2" x2="403.4" y2="143.3" stroke="#111" stroke-width="1.2"/>
<line x1="434.73" y1="140.2" x2="434.73" y2="143.3" stroke="#111" stroke-width="1.2"/>
<line x1="466.07" y1="140.2" x2="466.07" y2="143.3" stroke="#111" stroke-width="1.2"/>
<line x1="497.4" y1="140.2" x2="497.4" y2="143.3" stroke="#111" stroke-width="1.2"/>
<text transform="translate(403.4,152.8) scale(0.93,1)" font-size="8.7" text-anchor="middle" fill="#1a1a1a" stroke="#1a1a1a" stroke-width="0.2">WT</text>
<text transform="translate(434.73,152.8) scale(0.93,1)" font-size="8.7" text-anchor="middle" fill="#1a1a1a" stroke="#1a1a1a" stroke-width="0.2">PN-1<tspan font-size="6.6" stroke-width="0" fill="#333" dy="-2.8">-/-</tspan></text>
<text transform="translate(466.07,152.8) scale(0.93,1)" font-size="8.7" text-anchor="middle" fill="#1a1a1a" stroke="#1a1a1a" stroke-width="0.2">F8<tspan font-size="6.6" stroke-width="0" fill="#333" dy="-2.8">-/-</tspan></text>
<text transform="translate(497.4,152.8) scale(0.93,1)" font-size="8.7" text-anchor="middle" fill="#1a1a1a" stroke="#1a1a1a" stroke-width="0.2">F8<tspan font-size="6.6" stroke-width="0" fill="#333" dy="-2.8">-/-</tspan><tspan dy="2.8">/</tspan></text>
<text transform="translate(497.4,162) scale(0.93,1)" font-size="8.7" text-anchor="middle" fill="#1a1a1a" stroke="#1a1a1a" stroke-width="0.2">PN-1<tspan font-size="6.6" stroke-width="0" fill="#333" dy="-2.8">-/-</tspan></text>
<text transform="translate(359.7,127.7) rotate(-90)" x="0" y="0" font-size="10.2" fill="#3a3a3a" textLength="30" lengthAdjust="spacingAndGlyphs">Bleeding</text>
<text transform="translate(359.7,96.5) rotate(-90)" x="0" y="0" font-size="10.2" fill="#3a3a3a" textLength="13.9" lengthAdjust="spacingAndGlyphs">time</text>
<text transform="translate(359.7,81.7) rotate(-90)" x="0" y="0" font-size="10.2" fill="#3a3a3a" textLength="18.7" lengthAdjust="spacingAndGlyphs">(sec)</text>
<line x1="406.2" y1="14.55" x2="498.9" y2="14.55" stroke="#444" stroke-width="1.2"/>
<circle cx="447.4" cy="10.6" r="1.15" fill="#222"/>
<circle cx="450.8" cy="10.6" r="1.15" fill="#222"/>
<circle cx="454.2" cy="10.6" r="1.15" fill="#222"/>
<circle cx="457.6" cy="10.6" r="1.15" fill="#222"/>
<line x1="405.2" y1="24.4" x2="467.9" y2="24.4" stroke="#444" stroke-width="1.2"/>
<circle cx="431.3" cy="20.5" r="1.15" fill="#222"/>
<circle cx="434.7" cy="20.5" r="1.15" fill="#222"/>
<circle cx="438.1" cy="20.5" r="1.15" fill="#222"/>
<circle cx="441.5" cy="20.5" r="1.15" fill="#222"/>
<line x1="436" y1="32.6" x2="498" y2="32.6" stroke="#444" stroke-width="1.2"/>
<circle cx="462.1" cy="29" r="1.15" fill="#222"/>
<circle cx="465.5" cy="29" r="1.15" fill="#222"/>
<circle cx="468.9" cy="29" r="1.15" fill="#222"/>
<circle cx="472.3" cy="29" r="1.15" fill="#222"/>
<line x1="435.4" y1="44.4" x2="463" y2="44.4" stroke="#444" stroke-width="1.2"/>
<circle cx="444.1" cy="40.7" r="1.15" fill="#222"/>
<circle cx="447.5" cy="40.7" r="1.15" fill="#222"/>
<circle cx="450.9" cy="40.7" r="1.15" fill="#222"/>
<circle cx="454.3" cy="40.7" r="1.15" fill="#222"/>
<line x1="467.3" y1="44.4" x2="499.3" y2="44.4" stroke="#444" stroke-width="1.2"/>
<circle cx="481.9" cy="40.7" r="1.15" fill="#222"/>
<circle cx="485.3" cy="40.7" r="1.15" fill="#222"/>
<circle cx="403.6" cy="131" r="1.75" fill="#0f367f"/>
<circle cx="398" cy="134" r="1.75" fill="#0f367f"/>
<circle cx="401" cy="133.5" r="1.75" fill="#0f367f"/>
<circle cx="406" cy="133" r="1.75" fill="#0f367f"/>
<circle cx="409.5" cy="134" r="1.75" fill="#0f367f"/>
<circle cx="400" cy="136" r="1.75" fill="#0f367f"/>
<circle cx="404" cy="136.5" r="1.75" fill="#0f367f"/>
<circle cx="408" cy="136" r="1.75" fill="#0f367f"/>
<rect x="432.95" y="129.35" width="3.3" height="3.3" fill="#45125e"/>
<rect x="426.35" y="132.35" width="3.3" height="3.3" fill="#45125e"/>
<rect x="430.35" y="131.85" width="3.3" height="3.3" fill="#45125e"/>
<rect x="435.35" y="131.85" width="3.3" height="3.3" fill="#45125e"/>
<rect x="439.35" y="132.55" width="3.3" height="3.3" fill="#45125e"/>
<rect x="429.35" y="134.65" width="3.3" height="3.3" fill="#45125e"/>
<rect x="433.35" y="135.35" width="3.3" height="3.3" fill="#45125e"/>
<rect x="437.35" y="134.35" width="3.3" height="3.3" fill="#45125e"/>
<path d="M463.85 53.15L465.8 49.65L467.75 53.15Z" fill="#a6021f"/>
<path d="M466.55 57.35L468.5 53.85L470.45 57.35Z" fill="#a6021f"/>
<path d="M461.35 61.85L463.3 58.35L465.25 61.85Z" fill="#a6021f"/>
<path d="M463.85 72.45L465.8 68.95L467.75 72.45Z" fill="#a6021f"/>
<path d="M463.85 77.45L465.8 73.95L467.75 77.45Z" fill="#a6021f"/>
<path d="M461.35 82.25L463.3 78.75L465.25 82.25Z" fill="#a6021f"/>
<path d="M466.55 84.95L468.5 81.45L470.45 84.95Z" fill="#a6021f"/>
<path d="M461.35 90.55L463.3 87.05L465.25 90.55Z" fill="#a6021f"/>
<path d="M466.55 90.55L468.5 87.05L470.45 90.55Z" fill="#a6021f"/>
<path d="M492.6 79.7L496.2 79.7L494.4 83.3Z" fill="#3f9c18"/>
<path d="M497.6 79.7L501.2 79.7L499.4 83.3Z" fill="#3f9c18"/>
<path d="M487.4 84.3L491 84.3L489.2 87.9Z" fill="#3f9c18"/>
<path d="M502.8 84.3L506.4 84.3L504.6 87.9Z" fill="#3f9c18"/>
<path d="M495.1 88.1L498.7 88.1L496.9 91.7Z" fill="#3f9c18"/>
<path d="M492.6 93.9L496.2 93.9L494.4 97.5Z" fill="#3f9c18"/>
<path d="M497.6 97.4L501.2 97.4L499.4 101Z" fill="#3f9c18"/>
<path d="M495.1 103.2L498.7 103.2L496.9 106.8Z" fill="#3f9c18"/>
<line x1="403.6" y1="133.8" x2="403.6" y2="135" stroke="#262626" stroke-width="1.1"/>
<line x1="400" y1="133.8" x2="407.2" y2="133.8" stroke="#262626" stroke-width="1.35"/>
<line x1="400" y1="135" x2="407.2" y2="135" stroke="#262626" stroke-width="1.35"/>
<line x1="393.3" y1="134.4" x2="413.9" y2="134.4" stroke="#262626" stroke-width="1.35"/>
<line x1="434.8" y1="133.8" x2="434.8" y2="135" stroke="#262626" stroke-width="1.1"/>
<line x1="431.2" y1="133.8" x2="438.4" y2="133.8" stroke="#262626" stroke-width="1.35"/>
<line x1="431.2" y1="135" x2="438.4" y2="135" stroke="#262626" stroke-width="1.35"/>
<line x1="424.5" y1="134.4" x2="445.1" y2="134.4" stroke="#262626" stroke-width="1.35"/>
<line x1="465.8" y1="67.4" x2="465.8" y2="77" stroke="#262626" stroke-width="1.1"/>
<line x1="460.6" y1="67.4" x2="471" y2="67.4" stroke="#262626" stroke-width="1.35"/>
<line x1="460.6" y1="77" x2="471" y2="77" stroke="#262626" stroke-width="1.35"/>
<line x1="455.4" y1="72.2" x2="476.2" y2="72.2" stroke="#262626" stroke-width="1.35"/>
<line x1="496.9" y1="88.2" x2="496.9" y2="93.4" stroke="#262626" stroke-width="1.1"/>
<line x1="491.7" y1="88.2" x2="502.1" y2="88.2" stroke="#262626" stroke-width="1.35"/>
<line x1="491.7" y1="93.4" x2="502.1" y2="93.4" stroke="#262626" stroke-width="1.35"/>
<line x1="486.5" y1="90.7" x2="507.3" y2="90.7" stroke="#262626" stroke-width="1.35"/>
<text x="351.3" y="186.6" font-size="11.8" text-anchor="start" font-weight="bold" fill="#000" stroke="#000" stroke-width="0.3">F</text>
<line x1="388.05" y1="214.6" x2="388.05" y2="308.05" stroke="#111" stroke-width="1.2"/>
<line x1="384.65" y1="217.8" x2="388.05" y2="217.8" stroke="#111" stroke-width="1.2"/>
<text transform="translate(382.25,220.2) scale(0.915,1)" font-size="8.7" text-anchor="end" font-weight="normal" fill="#1a1a1a" stroke="#1a1a1a" stroke-width="0.22">2000</text>
<line x1="384.65" y1="240.23" x2="388.05" y2="240.23" stroke="#111" stroke-width="1.2"/>
<text transform="translate(382.25,242.63) scale(0.915,1)" font-size="8.7" text-anchor="end" font-weight="normal" fill="#1a1a1a" stroke="#1a1a1a" stroke-width="0.22">1500</text>
<line x1="384.65" y1="262.67" x2="388.05" y2="262.67" stroke="#111" stroke-width="1.2"/>
<text transform="translate(382.25,265.07) scale(0.915,1)" font-size="8.7" text-anchor="end" font-weight="normal" fill="#1a1a1a" stroke="#1a1a1a" stroke-width="0.22">1000</text>
<line x1="384.65" y1="285.1" x2="388.05" y2="285.1" stroke="#111" stroke-width="1.2"/>
<text transform="translate(382.25,287.5) scale(0.915,1)" font-size="8.7" text-anchor="end" font-weight="normal" fill="#1a1a1a" stroke="#1a1a1a" stroke-width="0.22">500</text>
<text transform="translate(382.25,309.8) scale(0.915,1)" font-size="8.7" text-anchor="end" font-weight="normal" fill="#1a1a1a" stroke="#1a1a1a" stroke-width="0.22">0</text>
<line x1="385" y1="307.45" x2="510.9" y2="307.45" stroke="#111" stroke-width="1.2"/>
<line x1="403.4" y1="307.45" x2="403.4" y2="310.55" stroke="#111" stroke-width="1.2"/>
<line x1="434.1" y1="307.45" x2="434.1" y2="310.55" stroke="#111" stroke-width="1.2"/>
<line x1="464.8" y1="307.45" x2="464.8" y2="310.55" stroke="#111" stroke-width="1.2"/>
<line x1="495.5" y1="307.45" x2="495.5" y2="310.55" stroke="#111" stroke-width="1.2"/>
<text transform="translate(403.4,320.2) scale(0.93,1)" font-size="8.7" text-anchor="middle" fill="#1a1a1a" stroke="#1a1a1a" stroke-width="0.2">WT</text>
<text transform="translate(434.1,320.2) scale(0.93,1)" font-size="8.7" text-anchor="middle" fill="#1a1a1a" stroke="#1a1a1a" stroke-width="0.2">PN-1<tspan font-size="6.6" stroke-width="0" fill="#333" dy="-2.8">-/-</tspan></text>
<text transform="translate(464.8,320.2) scale(0.93,1)" font-size="8.7" text-anchor="middle" fill="#1a1a1a" stroke="#1a1a1a" stroke-width="0.2">F8<tspan font-size="6.6" stroke-width="0" fill="#333" dy="-2.8">-/-</tspan></text>
<text transform="translate(495.5,320.2) scale(0.93,1)" font-size="8.7" text-anchor="middle" fill="#1a1a1a" stroke="#1a1a1a" stroke-width="0.2">F8<tspan font-size="6.6" stroke-width="0" fill="#333" dy="-2.8">-/-</tspan><tspan dy="2.8">/</tspan></text>
<text transform="translate(495.5,329.7) scale(0.93,1)" font-size="8.7" text-anchor="middle" fill="#1a1a1a" stroke="#1a1a1a" stroke-width="0.2">PN-1<tspan font-size="6.6" stroke-width="0" fill="#333" dy="-2.8">-/-</tspan></text>
<text transform="translate(360.1,285.1) rotate(-90)" x="0" y="0" font-size="10.2" fill="#3a3a3a" textLength="20.8" lengthAdjust="spacingAndGlyphs">Blood</text>
<text transform="translate(360.1,263.1) rotate(-90)" x="0" y="0" font-size="10.2" fill="#3a3a3a" textLength="13" lengthAdjust="spacingAndGlyphs">loss</text>
<text transform="translate(360.1,248.8) rotate(-90)" x="0" y="0" font-size="10.2" fill="#3a3a3a" textLength="12.8" lengthAdjust="spacingAndGlyphs">(µl)</text>
<line x1="407.8" y1="182.85" x2="500.6" y2="182.85" stroke="#444" stroke-width="1.2"/>
<circle cx="449.25" cy="179.1" r="1.15" fill="#222"/>
<circle cx="452.65" cy="179.1" r="1.15" fill="#222"/>
<circle cx="456.05" cy="179.1" r="1.15" fill="#222"/>
<circle cx="459.45" cy="179.1" r="1.15" fill="#222"/>
<line x1="406.9" y1="192.7" x2="469.6" y2="192.7" stroke="#444" stroke-width="1.2"/>
<circle cx="433" cy="189" r="1.15" fill="#222"/>
<circle cx="436.4" cy="189" r="1.15" fill="#222"/>
<circle cx="439.8" cy="189" r="1.15" fill="#222"/>
<circle cx="443.2" cy="189" r="1.15" fill="#222"/>
<line x1="438.1" y1="201" x2="499.7" y2="201" stroke="#444" stroke-width="1.2"/>
<circle cx="463.9" cy="197.1" r="1.15" fill="#222"/>
<circle cx="467.3" cy="197.1" r="1.15" fill="#222"/>
<circle cx="470.7" cy="197.1" r="1.15" fill="#222"/>
<circle cx="474.1" cy="197.1" r="1.15" fill="#222"/>
<line x1="437.1" y1="212.5" x2="464.7" y2="212.5" stroke="#444" stroke-width="1.2"/>
<circle cx="445.8" cy="208.8" r="1.15" fill="#222"/>
<circle cx="449.2" cy="208.8" r="1.15" fill="#222"/>
<circle cx="452.6" cy="208.8" r="1.15" fill="#222"/>
<circle cx="456" cy="208.8" r="1.15" fill="#222"/>
<line x1="469.1" y1="212.5" x2="500.9" y2="212.5" stroke="#444" stroke-width="1.2"/>
<circle cx="485.2" cy="208.8" r="1.15" fill="#222"/>
<circle cx="403.4" cy="288.5" r="1.75" fill="#0f367f"/>
<circle cx="396" cy="303.8" r="1.75" fill="#0f367f"/>
<circle cx="399.5" cy="303.5" r="1.75" fill="#0f367f"/>
<circle cx="403" cy="303" r="1.75" fill="#0f367f"/>
<circle cx="406.5" cy="303.5" r="1.75" fill="#0f367f"/>
<circle cx="410.5" cy="303.8" r="1.75" fill="#0f367f"/>
<circle cx="401" cy="305" r="1.75" fill="#0f367f"/>
<circle cx="405" cy="305" r="1.75" fill="#0f367f"/>
<circle cx="403.3" cy="306.2" r="1.75" fill="#0f367f"/>
<rect x="432.75" y="292.15" width="3.3" height="3.3" fill="#45125e"/>
<rect x="432.75" y="297.15" width="3.3" height="3.3" fill="#45125e"/>
<rect x="424.85" y="301.95" width="3.3" height="3.3" fill="#45125e"/>
<rect x="428.35" y="301.75" width="3.3" height="3.3" fill="#45125e"/>
<rect x="432.75" y="301.55" width="3.3" height="3.3" fill="#45125e"/>
<rect x="436.85" y="301.75" width="3.3" height="3.3" fill="#45125e"/>
<rect x="440.65" y="301.95" width="3.3" height="3.3" fill="#45125e"/>
<rect x="430.35" y="303.45" width="3.3" height="3.3" fill="#45125e"/>
<rect x="435.15" y="303.45" width="3.3" height="3.3" fill="#45125e"/>
<rect x="432.75" y="304.65" width="3.3" height="3.3" fill="#45125e"/>
<path d="M462.75 226.95L464.7 223.45L466.65 226.95Z" fill="#a6021f"/>
<path d="M465.55 242.15L467.5 238.65L469.45 242.15Z" fill="#a6021f"/>
<path d="M458.05 246.85L460 243.35L461.95 246.85Z" fill="#a6021f"/>
<path d="M460.35 251.15L462.3 247.65L464.25 251.15Z" fill="#a6021f"/>
<path d="M465.55 252.85L467.5 249.35L469.45 252.85Z" fill="#a6021f"/>
<path d="M455.35 259.95L457.3 256.45L459.25 259.95Z" fill="#a6021f"/>
<path d="M460.35 262.55L462.3 259.05L464.25 262.55Z" fill="#a6021f"/>
<path d="M465.55 261.15L467.5 257.65L469.45 261.15Z" fill="#a6021f"/>
<path d="M470.35 259.45L472.3 255.95L474.25 259.45Z" fill="#a6021f"/>
<path d="M493.5 231.5L497.1 231.5L495.3 235.1Z" fill="#3f9c18"/>
<path d="M491.2 247.6L494.8 247.6L493 251.2Z" fill="#3f9c18"/>
<path d="M496.6 251.7L500.2 251.7L498.4 255.3Z" fill="#3f9c18"/>
<path d="M493.5 257.8L497.1 257.8L495.3 261.4Z" fill="#3f9c18"/>
<path d="M486.4 268.3L490 268.3L488.2 271.9Z" fill="#3f9c18"/>
<path d="M491.4 272.1L495 272.1L493.2 275.7Z" fill="#3f9c18"/>
<path d="M495.9 273.3L499.5 273.3L497.7 276.9Z" fill="#3f9c18"/>
<path d="M500.9 272.1L504.5 272.1L502.7 275.7Z" fill="#3f9c18"/>
<path d="M493.5 283.2L497.1 283.2L495.3 286.8Z" fill="#3f9c18"/>
<line x1="403.4" y1="301.1" x2="403.4" y2="304.9" stroke="#262626" stroke-width="1.1"/>
<line x1="398.2" y1="301.1" x2="408.6" y2="301.1" stroke="#262626" stroke-width="1.35"/>
<line x1="398.2" y1="304.9" x2="408.6" y2="304.9" stroke="#262626" stroke-width="1.35"/>
<line x1="393.1" y1="303" x2="413.7" y2="303" stroke="#262626" stroke-width="1.35"/>
<line x1="434.4" y1="301.5" x2="434.4" y2="305.1" stroke="#262626" stroke-width="1.1"/>
<line x1="429.4" y1="301.5" x2="439.4" y2="301.5" stroke="#262626" stroke-width="1.35"/>
<line x1="429.4" y1="305.1" x2="439.4" y2="305.1" stroke="#262626" stroke-width="1.35"/>
<line x1="424.2" y1="303.3" x2="444.6" y2="303.3" stroke="#262626" stroke-width="1.35"/>
<line x1="465.2" y1="245.9" x2="465.2" y2="253.7" stroke="#262626" stroke-width="1.1"/>
<line x1="461" y1="245.9" x2="469.4" y2="245.9" stroke="#262626" stroke-width="1.35"/>
<line x1="461" y1="253.7" x2="469.4" y2="253.7" stroke="#262626" stroke-width="1.35"/>
<line x1="454.8" y1="249.9" x2="475.6" y2="249.9" stroke="#262626" stroke-width="1.35"/>
<line x1="495.3" y1="258.9" x2="495.3" y2="269.6" stroke="#262626" stroke-width="1.1"/>
<line x1="490.2" y1="258.9" x2="500.4" y2="258.9" stroke="#262626" stroke-width="1.35"/>
<line x1="490.2" y1="269.6" x2="500.4" y2="269.6" stroke="#262626" stroke-width="1.35"/>
<line x1="485" y1="264.4" x2="505.6" y2="264.4" stroke="#262626" stroke-width="1.35"/>
</svg>
</body></html>
